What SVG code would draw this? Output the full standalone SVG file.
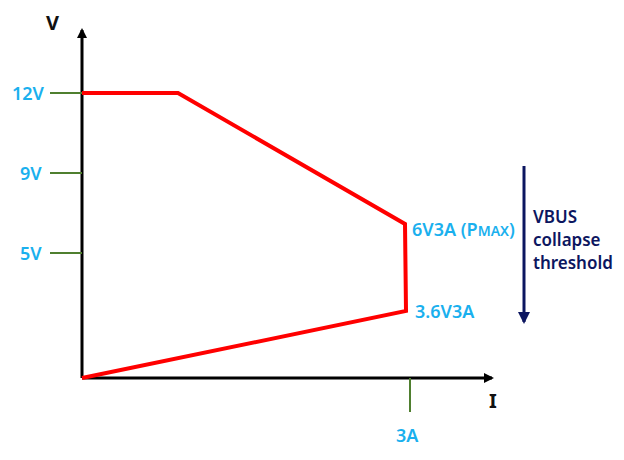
<svg xmlns="http://www.w3.org/2000/svg" width="624" height="460" viewBox="0 0 624 460">
<style>
.lbl{font-family:"Noto Sans","Open Sans",sans-serif;font-size:18px;font-weight:600;fill:#1ab0ee}
.ax{font-family:"Noto Sans",sans-serif;font-size:20px;font-weight:bold;fill:#111}
.tk{stroke:#4f7f2f;stroke-width:2}
</style>
<defs>
<marker id="ah" markerWidth="10" markerHeight="10" refX="8" refY="5" orient="auto" markerUnits="userSpaceOnUse"><path d="M0,0 L10,5 L0,10 Z" fill="#000"/></marker>
<marker id="an" markerWidth="12" markerHeight="12" refX="10" refY="6" orient="auto" markerUnits="userSpaceOnUse"><path d="M0,0 L12,6 L0,12 Z" fill="#0c1660"/></marker>
</defs>
<g id="connectors">
<line x1="82" y1="378" x2="82" y2="30" stroke="#000" stroke-width="3" marker-end="url(#ah)"/>
<line x1="82" y1="378" x2="492" y2="378" stroke="#000" stroke-width="3" marker-end="url(#ah)"/>
<line class="tk" x1="50" y1="93" x2="82" y2="93"/>
<line class="tk" x1="50" y1="173" x2="82" y2="173"/>
<line class="tk" x1="50" y1="253" x2="82" y2="253"/>
<line class="tk" x1="410" y1="378" x2="410" y2="412"/>
<polyline points="82,93 178,93 405,224 406,311 82,378" fill="none" stroke="#f00" stroke-width="4"/>
<line x1="524" y1="166" x2="524" y2="322" stroke="#0c1660" stroke-width="3" marker-end="url(#an)"/>
</g>
<g id="labels">
<text class="ax" x="46" y="30">V</text>
<text class="ax" x="489" y="408">I</text>
<text class="lbl" x="12" y="100">12V</text>
<text class="lbl" x="20" y="180">9V</text>
<text class="lbl" x="20" y="260">5V</text>
<text class="lbl" x="396" y="442">3A</text>
<text class="lbl" x="412" y="236">6V3A (P<tspan font-size="14">MAX</tspan>)</text>
<text class="lbl" x="415" y="318">3.6V3A</text>
<text font-family="Noto Sans,sans-serif" font-size="17" font-weight="600" fill="#0c1660"><tspan x="533" y="223">VBUS</tspan><tspan x="533" y="246">collapse</tspan><tspan x="533" y="269">threshold</tspan></text>
</g>
</svg>
